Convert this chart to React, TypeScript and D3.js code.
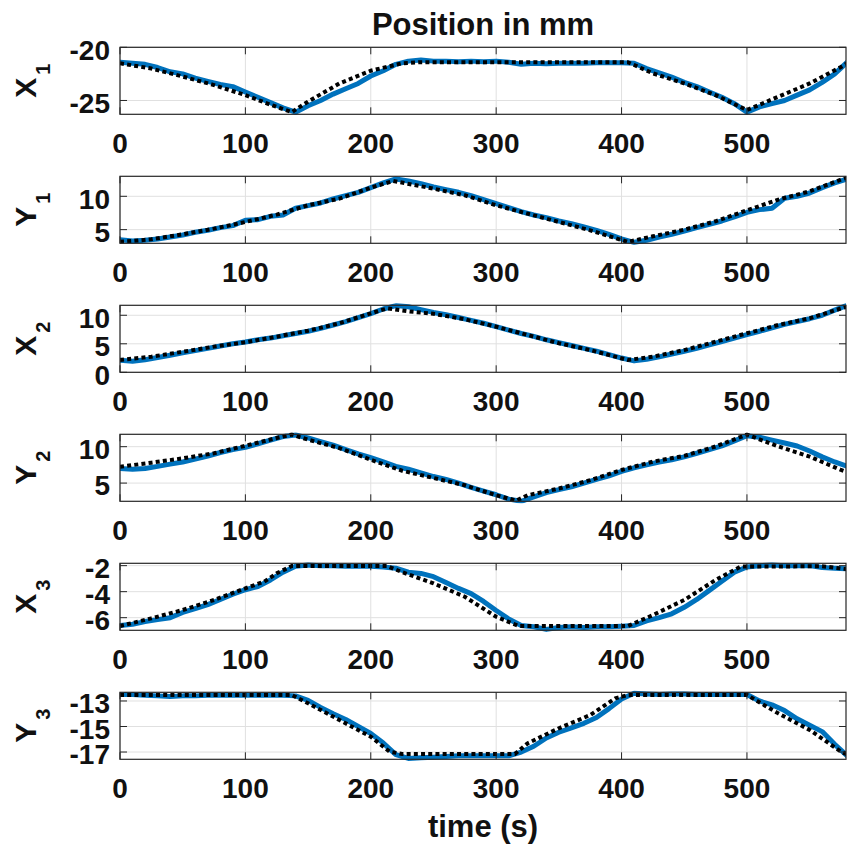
import React from 'react';
import * as d3 from 'd3';

const TITLE = 'Position in mm';
const X_LABEL = 'time (s)';
const TIME_TICKS = [0, 100, 200, 300, 400, 500];
const X_MAX = 579;

const PANEL_NAMES = ['X', 'Y', 'X', 'Y', 'X', 'Y'];
const PANEL_SUBS = ['1', '1', '2', '2', '3', '3'];
const Y_DOMAINS = [[-26.3, -20], [2.95, 13], [0, 11.75], [2.5, 11.7], [-6.97, -1.82], [-17.57, -12.32]];
const Y_TICKS = [[-25, -20], [5, 10], [0, 5, 10], [5, 10], [-6, -4, -2], [-17, -15, -13]];

// Reference trajectory (black dotted)
const X1_REF_T = [0, 25, 50, 75, 100, 120, 137, 150, 175, 200, 225, 240, 405, 425, 450, 475, 500, 525, 550, 575, 580];
const X1_REF = [-21.5, -22.0, -22.75, -23.55, -24.5, -25.4, -26.1, -25.1, -23.4, -22.2, -21.5, -21.4, -21.4, -22.45, -23.4, -24.5, -25.9, -24.65, -23.4, -21.85, -21.5];
const Y1_REF_T = [0, 10, 25, 50, 75, 100, 125, 150, 175, 200, 218, 250, 275, 300, 325, 350, 375, 405, 425, 450, 475, 500, 525, 550, 575, 580];
const Y1_REF = [3.2, 3.3, 3.55, 4.3, 5.15, 6.15, 7.25, 8.65, 9.65, 11.3, 12.3, 11.15, 10.15, 8.65, 7.4, 6.15, 4.9, 3.15, 4.0, 5.0, 6.25, 7.9, 9.5, 10.75, 12.5, 12.8];
const X2_REF_T = [0, 25, 50, 75, 100, 125, 150, 175, 200, 213, 230, 250, 275, 300, 325, 350, 375, 405, 425, 450, 475, 500, 525, 550, 575, 580];
const X2_REF = [2.16, 2.74, 3.6, 4.5, 5.26, 6.25, 7.3, 8.6, 10.35, 11.2, 10.7, 10.25, 9.3, 8.0, 6.55, 5.1, 3.9, 2.16, 2.74, 3.9, 5.37, 6.84, 8.3, 9.47, 11.2, 11.5];
const Y2_REF_T = [0, 25, 50, 75, 100, 125, 137, 150, 175, 200, 225, 250, 275, 300, 316, 325, 350, 375, 400, 425, 450, 475, 500, 525, 550, 575, 580];
const Y2_REF = [7.25, 7.8, 8.4, 9.1, 10.13, 11.2, 11.66, 10.96, 9.8, 8.2, 6.7, 5.7, 4.7, 3.33, 2.6, 3.33, 4.25, 5.4, 6.8, 7.95, 8.74, 10.03, 11.66, 10.03, 8.64, 6.8, 6.5];
const X3_REF_T = [0, 25, 50, 75, 100, 115, 125, 137, 213, 225, 250, 275, 300, 318, 405, 425, 450, 475, 495, 560, 580];
const X3_REF = [-6.64, -6.05, -5.41, -4.64, -3.74, -3.23, -2.59, -2.03, -2.03, -2.5, -3.36, -4.39, -5.93, -6.64, -6.64, -5.8, -4.64, -3.1, -2.07, -2.05, -2.27];
const Y3_REF_T = [0, 137, 150, 175, 200, 215, 225, 315, 325, 350, 375, 395, 405, 500, 525, 550, 575, 580];
const Y3_REF = [-12.53, -12.53, -13.18, -14.49, -15.8, -16.97, -17.15, -17.15, -16.32, -15.14, -14.1, -12.79, -12.53, -12.53, -13.97, -15.27, -16.97, -17.2];

// Measured trajectory (blue), every 10 s
const MEAS_T = [0, 10, 20, 30, 40, 50, 60, 70, 80, 90, 100, 110, 120, 130, 140, 150, 160, 170, 180, 190, 200, 210, 220, 230, 240, 250, 260, 270, 280, 290, 300, 310, 320, 330, 340, 350, 360, 370, 380, 390, 400, 410, 420, 430, 440, 450, 460, 470, 480, 490, 500, 510, 520, 530, 540, 550, 560, 570, 580];
const X1_MEAS = [-21.4, -21.5, -21.6, -21.9, -22.3, -22.5, -22.9, -23.2, -23.5, -23.7, -24.2, -24.7, -25.2, -25.7, -26.1, -25.5, -25.0, -24.4, -23.9, -23.4, -22.7, -22.2, -21.6, -21.3, -21.2, -21.3, -21.3, -21.35, -21.3, -21.35, -21.3, -21.4, -21.6, -21.5, -21.55, -21.5, -21.5, -21.5, -21.45, -21.45, -21.45, -21.5, -22.0, -22.4, -22.8, -23.3, -23.7, -24.2, -24.7, -25.3, -26.1, -25.6, -25.3, -25.0, -24.5, -24.0, -23.3, -22.5, -21.4];
const Y1_MEAS = [3.5, 3.3, 3.4, 3.6, 3.9, 4.2, 4.6, 4.9, 5.3, 5.6, 6.4, 6.5, 7.0, 7.2, 8.2, 8.6, 9.0, 9.6, 10.1, 10.6, 11.3, 12.0, 12.6, 12.3, 11.9, 11.4, 11.0, 10.6, 10.1, 9.5, 8.9, 8.3, 7.7, 7.2, 6.8, 6.3, 5.9, 5.4, 4.9, 4.3, 3.6, 3.1, 3.4, 3.9, 4.3, 4.8, 5.3, 5.8, 6.3, 6.9, 7.6, 8.0, 8.2, 9.7, 10.0, 10.5, 11.3, 12.0, 12.6];
const X2_MEAS = [2.1, 1.95, 2.2, 2.6, 3.0, 3.4, 3.8, 4.2, 4.6, 5.0, 5.3, 5.7, 6.0, 6.4, 6.8, 7.2, 7.7, 8.3, 8.9, 9.6, 10.3, 11.1, 11.7, 11.5, 11.0, 10.5, 10.1, 9.6, 9.1, 8.6, 8.0, 7.4, 6.8, 6.3, 5.7, 5.2, 4.7, 4.2, 3.7, 3.1, 2.5, 2.0, 2.3, 2.7, 3.2, 3.7, 4.2, 4.8, 5.4, 6.0, 6.6, 7.2, 7.8, 8.4, 8.9, 9.4, 10.0, 10.9, 11.75];
const Y2_MEAS = [7.0, 6.9, 7.0, 7.3, 7.6, 7.9, 8.3, 8.7, 9.2, 9.6, 9.9, 10.4, 10.9, 11.4, 11.6, 11.2, 10.7, 10.2, 9.6, 9.0, 8.5, 7.9, 7.3, 6.9, 6.4, 5.9, 5.5, 5.0, 4.4, 3.9, 3.4, 2.8, 2.5, 3.1, 3.7, 4.1, 4.5, 5.0, 5.5, 6.0, 6.6, 7.1, 7.5, 7.9, 8.2, 8.6, 9.1, 9.6, 10.1, 10.8, 11.5, 11.3, 10.9, 10.5, 10.1, 9.4, 8.6, 7.9, 7.3];
const X3_MEAS = [-6.6, -6.5, -6.3, -6.15, -6.0, -5.6, -5.3, -5.0, -4.6, -4.2, -3.85, -3.6, -3.1, -2.5, -2.05, -1.95, -2.0, -2.0, -2.05, -2.05, -2.05, -2.1, -2.2, -2.5, -2.6, -2.85, -3.3, -3.75, -4.15, -4.75, -5.45, -6.1, -6.6, -6.7, -6.9, -6.75, -6.7, -6.75, -6.7, -6.7, -6.65, -6.6, -6.25, -6.0, -5.7, -5.2, -4.6, -3.9, -3.2, -2.5, -2.1, -2.0, -1.95, -2.0, -2.0, -2.0, -2.15, -2.2, -2.25];
const Y3_MEAS = [-12.5, -12.5, -12.55, -12.6, -12.65, -12.6, -12.6, -12.55, -12.55, -12.55, -12.55, -12.55, -12.55, -12.55, -12.6, -12.95, -13.5, -14.0, -14.45, -15.0, -15.55, -16.3, -17.2, -17.5, -17.45, -17.4, -17.35, -17.3, -17.3, -17.3, -17.3, -17.3, -17.0, -16.55, -15.9, -15.45, -15.1, -14.75, -14.3, -13.6, -12.85, -12.4, -12.45, -12.5, -12.45, -12.45, -12.5, -12.5, -12.5, -12.5, -12.5, -13.0, -13.3, -13.75, -14.4, -14.9, -15.4, -16.4, -17.3];

const REF_T = [X1_REF_T, Y1_REF_T, X2_REF_T, Y2_REF_T, X3_REF_T, Y3_REF_T];
const REF_V = [X1_REF, Y1_REF, X2_REF, Y2_REF, X3_REF, Y3_REF];
const MEAS_V = [X1_MEAS, Y1_MEAS, X2_MEAS, Y2_MEAS, X3_MEAS, Y3_MEAS];

const W = 851;
const H = 850;
const LEFT = 120;
const RIGHT = 846;
const TOP0 = 47.3;
const STEP = 129;
const PH = 67;
const FONT = '"Liberation Sans", Arial, Helvetica, sans-serif';
const AXC = '#262626';
const TXT = '#111';
const GRID = '#e0e0e0';
const BLUE = '#0072BD';
const TICK_LEN = 7;

export default function App() {
  const x = d3.scaleLinear().domain([0, X_MAX]).range([LEFT, RIGHT]);

  return (
    <svg width={W} height={H} style={{ position: 'absolute', left: 0, top: 0, background: '#fff' }}
      fontFamily={FONT} fontWeight="bold">
      <rect x={0} y={0} width={W} height={H} fill="#fff" />
      <text x={(LEFT + RIGHT) / 2} y={35} textAnchor="middle" fontSize={31} fill={TXT}>{TITLE}</text>
      {PANEL_NAMES.map((name, i) => {
        const top = TOP0 + i * STEP;
        const bottom = top + PH;
        const y = d3.scaleLinear().domain(Y_DOMAINS[i]).range([bottom, top]);
        const refLine = d3.line<number>().x((_, k) => x(REF_T[i][k])).y((v) => y(v));
        const measLine = d3.line<number>().x((_, k) => x(MEAS_T[k])).y((v) => y(v));
        const clipId = `clip${i}`;
        const cy = (top + bottom) / 2;
        return (
          <g key={i}>
            <defs>
              <clipPath id={clipId}>
                <rect x={LEFT} y={top - 2} width={RIGHT - LEFT} height={PH + 4} />
              </clipPath>
            </defs>
            {TIME_TICKS.map((t) => (
              <line key={'gx' + t} x1={x(t)} x2={x(t)} y1={top} y2={bottom} stroke={GRID} strokeWidth={1} />
            ))}
            {Y_TICKS[i].map((v) => (
              <line key={'gy' + v} x1={LEFT} x2={RIGHT} y1={y(v)} y2={y(v)} stroke={GRID} strokeWidth={1} />
            ))}
            <g clipPath={`url(#${clipId})`}>
              <path d={measLine(MEAS_V[i]) || ''} fill="none" stroke={BLUE} strokeWidth={5}
                strokeLinejoin="round" strokeLinecap="round" />
              <path d={refLine(REF_V[i]) || ''} fill="none" stroke="#000" strokeWidth={4}
                strokeDasharray="4 3.2" />
            </g>
            {TIME_TICKS.map((t) => (
              <g key={'tx' + t}>
                <line x1={x(t)} x2={x(t)} y1={bottom} y2={bottom - TICK_LEN} stroke={AXC} strokeWidth={1} />
                <line x1={x(t)} x2={x(t)} y1={top} y2={top + TICK_LEN} stroke={AXC} strokeWidth={1} />
                <text x={x(t)} y={bottom + 38.7} textAnchor="middle" fontSize={28} fill={TXT}>{t}</text>
              </g>
            ))}
            {Y_TICKS[i].map((v) => (
              <g key={'ty' + v}>
                <line x1={LEFT} x2={LEFT + TICK_LEN} y1={y(v)} y2={y(v)} stroke={AXC} strokeWidth={1} />
                <line x1={RIGHT} x2={RIGHT - TICK_LEN} y1={y(v)} y2={y(v)} stroke={AXC} strokeWidth={1} />
                <text x={110} y={y(v) + 12.3} textAnchor="end" fontSize={28} fill={TXT}>{v}</text>
              </g>
            ))}
            <rect x={LEFT} y={top} width={RIGHT - LEFT} height={PH} fill="none" stroke={AXC} strokeWidth={1.2} />
            <text transform={`translate(36,${cy}) rotate(-90)`} textAnchor="middle" fontSize={30} fill={TXT}>
              <tspan>{name}</tspan>
              <tspan fontSize={20} dx={3} dy={14}>{PANEL_SUBS[i]}</tspan>
            </text>
          </g>
        );
      })}
      <text x={(LEFT + RIGHT) / 2} y={837} textAnchor="middle" fontSize={31} fill={TXT}>{X_LABEL}</text>
    </svg>
  );
}
